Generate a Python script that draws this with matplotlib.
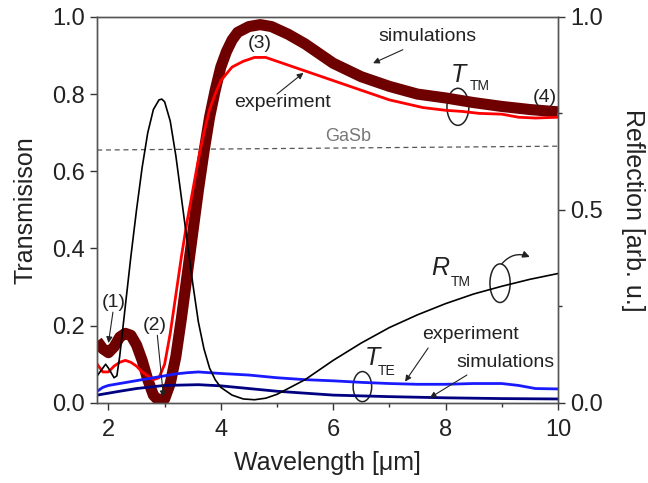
import matplotlib
matplotlib.use("Agg")
import matplotlib.pyplot as plt
from matplotlib.patches import Ellipse
from matplotlib.ticker import MultipleLocator, FormatStrFormatter

plt.rcParams['font.family'] = ['Liberation Sans', 'DejaVu Sans']

# Simulated T_TM
sim_tm_x = [1.8, 1.9, 2.0, 2.1, 2.2, 2.3, 2.4, 2.5, 2.6, 2.7, 2.8, 2.9, 3.0, 3.1, 3.2, 3.3, 3.4,
            3.5, 3.6, 3.7, 3.8, 3.9, 4.0, 4.1, 4.2, 4.3, 4.5, 4.7, 4.9, 5.2, 5.5, 6.0, 6.5, 7.0,
            7.5, 8.0, 8.5, 9.0, 9.5, 10.0]
sim_tm_y = [0.16, 0.14, 0.13, 0.145, 0.17, 0.18, 0.175, 0.15, 0.11, 0.06, 0.02, 0.005, 0.01, 0.05,
            0.12, 0.22, 0.33, 0.44, 0.55, 0.65, 0.74, 0.81, 0.87, 0.91, 0.94, 0.96, 0.975, 0.98,
            0.975, 0.955, 0.93, 0.88, 0.845, 0.82, 0.80, 0.79, 0.778, 0.768, 0.76, 0.754]

# Experimental T_TM
exp_tm_x = [1.8, 1.9, 2.0, 2.1, 2.2, 2.3, 2.4, 2.5, 2.6, 2.7, 2.8, 2.9, 3.0, 3.1, 3.2, 3.3, 3.4,
            3.5, 3.6, 3.7, 3.8, 3.9, 4.0, 4.2, 4.4, 4.6, 4.8, 5.0, 5.2, 5.5, 5.8, 6.0, 6.3, 6.5,
            6.8, 7.0, 7.3, 7.6, 8.0, 8.3, 8.6, 9.0, 9.3, 9.6, 10.0]
exp_tm_y = [0.10, 0.08, 0.08, 0.095, 0.105, 0.11, 0.105, 0.095, 0.08, 0.07, 0.06, 0.065, 0.10,
            0.18, 0.28, 0.38, 0.47, 0.55, 0.63, 0.70, 0.76, 0.80, 0.835, 0.87, 0.885, 0.895,
            0.895, 0.885, 0.875, 0.86, 0.845, 0.835, 0.82, 0.81, 0.795, 0.785, 0.775, 0.765,
            0.758, 0.755, 0.75, 0.748, 0.74, 0.738, 0.74]

# Reflection R_TM (right axis)
r_tm_x = [1.8, 1.9, 1.95, 2.0, 2.1, 2.15, 2.2, 2.3, 2.4, 2.5, 2.6, 2.7, 2.8, 2.9, 2.95, 3.0, 3.1,
          3.2, 3.3, 3.4, 3.5, 3.6, 3.7, 3.8, 3.9, 4.0, 4.2, 4.4, 4.6, 4.8, 5.0, 5.5, 6.0, 6.5,
          7.0, 7.5, 8.0, 8.5, 9.0, 9.5, 10.0]
r_tm_y = [0.07, 0.09, 0.10, 0.09, 0.065, 0.07, 0.12, 0.25, 0.38, 0.50, 0.61, 0.70, 0.76, 0.785,
          0.787, 0.78, 0.73, 0.64, 0.53, 0.42, 0.31, 0.21, 0.14, 0.09, 0.06, 0.04, 0.02, 0.01,
          0.008, 0.012, 0.022, 0.06, 0.11, 0.155, 0.195, 0.228, 0.257, 0.282, 0.302, 0.32, 0.335]

# Experimental T_TE
exp_te_x = [1.8, 1.9, 2.0, 2.2, 2.4, 2.6, 2.8, 3.0, 3.2, 3.4, 3.6, 3.8, 4.0, 4.5, 5.0, 5.5, 6.0,
            6.5, 7.0, 7.5, 8.0, 8.5, 9.0, 9.3, 9.6, 10.0]
exp_te_y = [0.03, 0.04, 0.045, 0.05, 0.055, 0.06, 0.065, 0.07, 0.075, 0.078, 0.08, 0.078, 0.076,
            0.072, 0.065, 0.06, 0.057, 0.053, 0.05, 0.048, 0.048, 0.05, 0.05, 0.045, 0.037, 0.036]

# Simulated T_TE
sim_te_x = [1.8, 2.0, 2.2, 2.5, 2.8, 3.0, 3.3, 3.6, 4.0, 4.5, 5.0, 5.5, 6.0, 7.0, 8.0, 9.0, 10.0]
sim_te_y = [0.02, 0.025, 0.03, 0.037, 0.042, 0.045, 0.046, 0.047, 0.044, 0.037, 0.03, 0.025,
            0.02, 0.016, 0.013, 0.011, 0.01]

# GaSb reference
gasb_x = [1.8, 10.0]
gasb_y = [0.655, 0.665]

fig = plt.figure(figsize=(6.48, 4.83), dpi=100)
ax = fig.add_axes([0.150, 0.166, 0.711, 0.799])
ax2 = ax.twinx()

ax.plot(gasb_x, gasb_y, ls='--', color='#555555', lw=0.9, dashes=(4, 3))
ax.plot(sim_tm_x, sim_tm_y, color='#6e0000', lw=8, solid_capstyle='butt')
ax.plot(exp_tm_x, exp_tm_y, color='#ff0000', lw=2)
ax.plot(exp_te_x, exp_te_y, color='#1a1aff', lw=2)
ax.plot(sim_te_x, sim_te_y, color='#000080', lw=2)
ax2.plot(r_tm_x, r_tm_y, color='black', lw=1.2)

ax.set_xlim(1.8, 10)
ax.set_ylim(0, 1)
ax2.set_ylim(0, 1)
ax.xaxis.set_major_locator(MultipleLocator(2))
ax.xaxis.set_minor_locator(MultipleLocator(1))
ax.yaxis.set_major_locator(MultipleLocator(0.2))
ax2.yaxis.set_major_locator(MultipleLocator(0.5))
ax2.yaxis.set_minor_locator(MultipleLocator(0.25))
ax.yaxis.set_major_formatter(FormatStrFormatter('%.1f'))
ax2.yaxis.set_major_formatter(FormatStrFormatter('%.1f'))

for a in (ax, ax2):
    a.tick_params(which='major', direction='out', length=5, width=1, labelsize=17,
                  color='#333333', labelcolor='#222222', pad=4)
    a.tick_params(which='minor', direction='out', length=3, width=1, color='#333333')
    for s in a.spines.values():
        s.set_color('#555555')
        s.set_linewidth(1)
ax.tick_params(axis='x', which='major', pad=7)

ax.set_xlabel('Wavelength [\u03bcm]', fontsize=18, color='#222222', labelpad=7)
ax.set_ylabel('Transmisison', fontsize=18, color='#222222', labelpad=10)
ax2.set_ylabel('Reflection [arb. u.]', fontsize=18, color='#222222', rotation=270, labelpad=30)

tc = '#222222'
fs = 14


def arr(ms=9):
    return dict(arrowstyle='-|>', color='#222222', lw=0.8, mutation_scale=ms, shrinkA=0, shrinkB=0)


ax.text(6.27, 0.69, 'GaSb', color='#777777', fontsize=13, ha='center', va='center')
ax.text(2.09, 0.26, '(1)', fontsize=fs, ha='center', va='center', color=tc)
ax.annotate('', xy=(2.0, 0.155), xytext=(2.08, 0.235), arrowprops=arr())
ax.text(2.82, 0.2, '(2)', fontsize=fs, ha='center', va='center', color=tc)
ax.annotate('', xy=(2.98, 0.015), xytext=(2.87, 0.175), arrowprops=arr())
ax.text(4.70, 0.93, '(3)', fontsize=fs, ha='center', va='center', color=tc)
ax.text(9.77, 0.79, '(4)', fontsize=fs, ha='center', va='center', color=tc)

ax.text(7.67, 0.948, 'simulations', fontsize=fs, ha='center', va='center', color=tc)
ax.annotate('', xy=(6.71, 0.88), xytext=(7.24, 0.915), arrowprops=arr())
ax.text(5.09, 0.777, 'experiment', fontsize=fs, ha='center', va='center', color=tc)
ax.annotate('', xy=(5.47, 0.855), xytext=(5.0, 0.80), arrowprops=arr())

ax.text(8.22, 0.85, 'T', fontsize=18, fontstyle='italic', ha='center', va='center', color=tc)
ax.text(8.6, 0.822, 'TM', fontsize=10, ha='center', va='center', color=tc)
ax.add_patch(Ellipse((8.22, 0.767), 0.39, 0.096, fill=False, color='#222222', lw=1.1))

ax2.text(7.9, 0.35, 'R', fontsize=18, fontstyle='italic', ha='center', va='center', color=tc)
ax2.text(8.27, 0.313, 'TM', fontsize=10, ha='center', va='center', color=tc)
ax2.add_patch(Ellipse((8.97, 0.31), 0.36, 0.1, fill=False, color='#222222', lw=1.1))
ax2.annotate('', xy=(9.5, 0.378), xytext=(9.0, 0.36),
             arrowprops=dict(arrowstyle='-|>', color='#222222', lw=1.0, mutation_scale=10,
                             shrinkA=0, shrinkB=0, connectionstyle='arc3,rad=-0.35'))

ax.text(6.69, 0.117, 'T', fontsize=18, fontstyle='italic', ha='center', va='center', color=tc)
ax.text(6.95, 0.082, 'TE', fontsize=10, ha='center', va='center', color=tc)
ax.add_patch(Ellipse((6.52, 0.042), 0.33, 0.078, fill=False, color='#222222', lw=1.1))
ax.text(8.44, 0.176, 'experiment', fontsize=fs, ha='center', va='center', color=tc)
ax.annotate('', xy=(7.28, 0.055), xytext=(7.69, 0.142), arrowprops=arr())
ax.text(9.06, 0.104, 'simulations', fontsize=fs, ha='center', va='center', color=tc)
ax.annotate('', xy=(7.72, 0.013), xytext=(8.38, 0.072), arrowprops=arr())

fig.savefig('out.png', dpi=100)
